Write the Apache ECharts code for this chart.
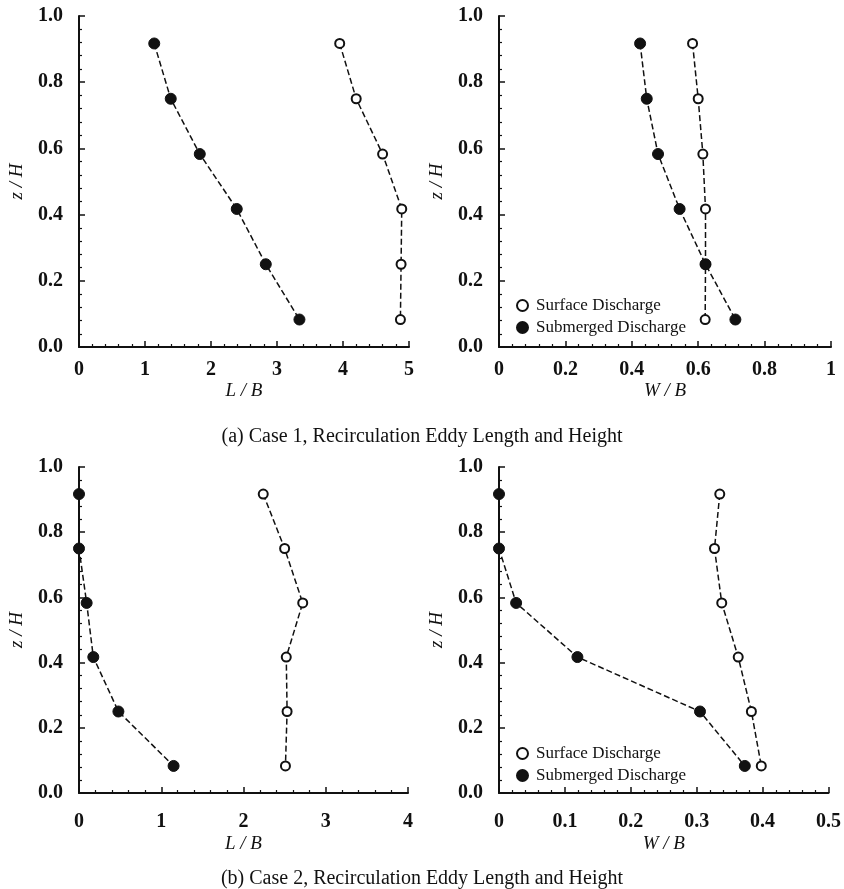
<!DOCTYPE html>
<html>
<head>
<meta charset="utf-8">
<script src="https://cdn.jsdelivr.net/npm/echarts@6/dist/echarts.min.js"></script>
<style>
  html, body { margin: 0; padding: 0; background: #fff; }
  #main { width: 844px; height: 889px; }
</style>
</head>
<body>
<div id="main"></div>
<script>
// z/H levels shared by all panels
var zLevels = [0.917, 0.75, 0.583, 0.417, 0.25, 0.083];

// (a) Case 1
var case1LenSurface = [3.95, 4.2, 4.6, 4.89, 4.88, 4.87];
var case1LenSubmerged = [1.14, 1.39, 1.83, 2.39, 2.83, 3.34];
var case1WidSurface = [0.583, 0.6, 0.614, 0.622, 0.622, 0.621];
var case1WidSubmerged = [0.425, 0.445, 0.479, 0.544, 0.622, 0.712];

// (b) Case 2
var case2LenSurface = [2.24, 2.5, 2.72, 2.52, 2.53, 2.51];
var case2LenSubmerged = [0, 0, 0.093, 0.174, 0.479, 1.15];
var case2WidSurface = [0.335, 0.327, 0.338, 0.363, 0.383, 0.398];
var case2WidSubmerged = [0, 0, 0.026, 0.119, 0.305, 0.373];

var captionA = '(a) Case 1, Recirculation Eddy Length and Height';
var captionB = '(b) Case 2, Recirculation Eddy Length and Height';

var serif = '"Liberation Serif", "DejaVu Serif", serif';

function pairs(xs) {
    return xs.map(function (x, i) { return [x, zLevels[i]]; });
}

function xAxisFor(idx, max, interval, name, margin, gap) {
    return {
        gridIndex: idx, type: 'value', min: 0, max: max, interval: interval,
        name: name, nameLocation: 'middle', nameGap: gap,
        nameTextStyle: { fontFamily: serif, fontStyle: 'italic', fontSize: 19, color: '#111' },
        axisLine: { lineStyle: { color: '#111', width: 2 } },
        axisTick: { inside: true, length: 6, lineStyle: { color: '#111', width: 1.5 } },
        minorTick: { show: true, splitNumber: 5, length: 3, lineStyle: { color: '#111', width: 1.2 } },
        splitLine: { show: false },
        axisLabel: {
            fontFamily: serif, fontSize: 20, fontWeight: 'bold', color: '#111', margin: margin,
            formatter: function (v) { return String(Math.round(v * 100) / 100); }
        }
    };
}

function yAxisFor(idx) {
    return {
        gridIndex: idx, type: 'value', min: 0, max: 1, interval: 0.2,
        name: 'z / H', nameLocation: 'middle', nameGap: 53,
        nameTextStyle: { fontFamily: serif, fontStyle: 'italic', fontSize: 19, color: '#111' },
        axisLine: { lineStyle: { color: '#111', width: 2 } },
        axisTick: { inside: true, length: 6, lineStyle: { color: '#111', width: 1.5 } },
        minorTick: { show: true, splitNumber: 5, length: 3, lineStyle: { color: '#111', width: 1.2 } },
        splitLine: { show: false },
        axisLabel: {
            fontFamily: serif, fontSize: 20, fontWeight: 'bold', color: '#111', margin: 16,
            formatter: function (v) { return v.toFixed(1); }
        }
    };
}

function surfaceSeries(idx, xs) {
    return {
        name: 'Surface Discharge', type: 'line', xAxisIndex: idx, yAxisIndex: idx,
        data: pairs(xs), symbol: 'circle', symbolSize: 9, z: 3,
        lineStyle: { color: '#111', width: 1.5, type: [6, 3] },
        itemStyle: { color: '#fff', borderColor: '#111', borderWidth: 2 }
    };
}

function submergedSeries(idx, xs) {
    return {
        name: 'Submerged Discharge', type: 'line', xAxisIndex: idx, yAxisIndex: idx,
        data: pairs(xs), symbol: 'circle', symbolSize: 11, z: 4,
        lineStyle: { color: '#111', width: 1.5, type: [6, 3] },
        itemStyle: { color: '#111', borderColor: '#111', borderWidth: 1 }
    };
}

function legendAt(top) {
    return {
        orient: 'vertical', left: 511, top: top, icon: 'circle',
        itemWidth: 11, itemHeight: 11, itemGap: 5,
        selectedMode: false,
        textStyle: { fontFamily: serif, fontSize: 17, color: '#111', padding: [0, 0, 0, 3] },
        data: ['Surface Discharge', 'Submerged Discharge']
    };
}

var myChart = echarts.init(document.getElementById('main'));

var option = {
    backgroundColor: '#fff',
    animation: false,
    title: [
        { text: captionA, left: 'center', top: 422,
          textStyle: { fontFamily: serif, fontSize: 20, fontWeight: 'normal', color: '#111' } },
        { text: captionB, left: 'center', top: 864,
          textStyle: { fontFamily: serif, fontSize: 20, fontWeight: 'normal', color: '#111' } }
    ],
    legend: [legendAt(292), legendAt(740)],
    grid: [
        { left: 79, top: 16, width: 330, height: 331 },
        { left: 499, top: 16, width: 332, height: 331 },
        { left: 79, top: 467, width: 329, height: 326 },
        { left: 499, top: 467, width: 331, height: 326 }
    ],
    xAxis: [
        xAxisFor(0, 5, 1, 'L / B', 13, 34),
        xAxisFor(1, 1, 0.2, 'W / B', 13, 34),
        xAxisFor(2, 4, 1, 'L / B', 19, 41),
        xAxisFor(3, 0.5, 0.1, 'W / B', 19, 41)
    ],
    yAxis: [yAxisFor(0), yAxisFor(1), yAxisFor(2), yAxisFor(3)],
    series: [
        surfaceSeries(0, case1LenSurface),
        submergedSeries(0, case1LenSubmerged),
        surfaceSeries(1, case1WidSurface),
        submergedSeries(1, case1WidSubmerged),
        surfaceSeries(2, case2LenSurface),
        submergedSeries(2, case2LenSubmerged),
        surfaceSeries(3, case2WidSurface),
        submergedSeries(3, case2WidSubmerged)
    ]
};

myChart.setOption(option);
</script>
</body>
</html>
